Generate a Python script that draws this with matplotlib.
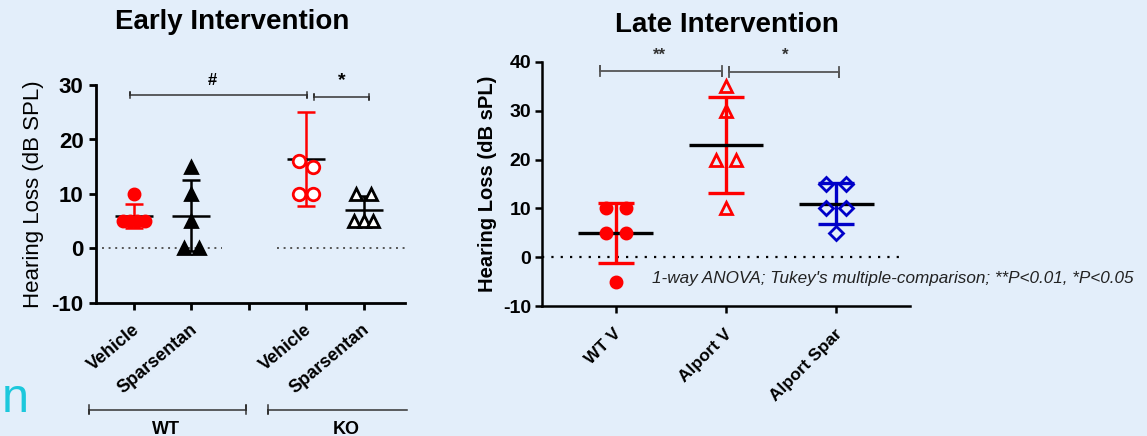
import numpy as np
import matplotlib
matplotlib.use("Agg")
import matplotlib.pyplot as plt
from matplotlib.transforms import ScaledTranslation

plt.rcParams['font.family'] = ['Liberation Sans', 'DejaVu Sans']

BG = "#e3eefa"
RED = "#ff0000"
BLUE = "#0000c8"

# ---- data: early intervention ----
early_labels = ["Vehicle", "Sparsentan", "Vehicle", "Sparsentan"]
early_pos = [1, 2, 4, 5]
early_points = [
    [10, 5, 5, 5, 5],
    [15, 10, 5, 0, 0],
    [16, 15, 10, 10],
    [10, 10, 5, 5, 5],
]
early_mean = [6.0, 6.0, 16.4, 7.0]
early_sd = [2.2, 6.5, 8.6, 2.7]
early_groups = ["WT", "KO"]

# ---- data: late intervention ----
late_labels = ["WT V", "Alport V", "Alport Spar"]
late_points = [
    [10, 10, 5, 5, -5],
    [35, 30, 20, 20, 10],
    [15, 15, 10, 10, 5],
]

note = "1-way ANOVA; Tukey's multiple-comparison; **P<0.01, *P<0.05"


def swarm(vals, width, thr):
    # spread points of (almost) equal value side by side
    vals = sorted(vals, reverse=True)
    offs = np.zeros(len(vals))
    used = [False] * len(vals)
    for i in range(len(vals)):
        if used[i]:
            continue
        grp = [j for j in range(len(vals)) if not used[j] and abs(vals[j] - vals[i]) <= thr]
        n = len(grp)
        step = width / n
        for k, j in enumerate(grp):
            offs[j] = (k - (n - 1) / 2) * step if n > 1 else 0
            used[j] = True
    return np.array(vals), offs


def xlabels(ax, pos, labels, rot, size, dx, dy):
    # rotated category labels, placed by hand under the ticks
    tr = ax.get_xaxis_transform() + ScaledTranslation(dx / 100, dy / 100, fig.dpi_scale_trans)
    for p, lab in zip(pos, labels):
        ax.text(p, 0, lab, transform=tr, rotation=rot, ha="right", va="top",
                rotation_mode="anchor", fontsize=size, fontweight="bold", clip_on=False)


fig = plt.figure(figsize=(11.47, 4.36), dpi=100, facecolor=BG)

# ================= early =================
ax1 = fig.add_axes([96 / 1147, 1 - 303 / 436, (405 - 96) / 1147, 218 / 436])
ax1.set_facecolor(BG)
ax1.set_xlim(0.34, 5.72)
ax1.set_ylim(-10, 30)

ax1.plot([0.44, 2.53], [0, 0], color="#555555", lw=1.4, ls=(0, (1, 2.4)))
ax1.plot([3.49, 5.72], [0, 0], color="#555555", lw=1.4, ls=(0, (1, 2.4)))

early_style = [
    dict(marker="o", color=RED, mfc=RED, ms=8),
    dict(marker="^", color="black", mfc="black", ms=9),
    dict(marker="o", color=RED, mfc="white", ms=9),
    dict(marker="^", color="black", mfc="white", ms=9),
]
for x, pts, m, s, st in zip(early_pos, early_points, early_mean, early_sd, early_style):
    ax1.errorbar(x, m, yerr=s, color=st["color"], lw=1.8, capsize=6.5, capthick=1.8, zorder=2)
    ax1.hlines(m, x - 0.33, x + 0.33, color="black", lw=1.8, zorder=3)
    v, o = swarm(pts, 0.5, 1.5)
    ax1.plot(x + o, v, ls="none", marker=st["marker"], ms=st["ms"], mfc=st["mfc"],
             mec=st["color"], mew=2, zorder=4, clip_on=False)

# significance
ax1.plot([0.93, 0.93, 0.93, 4.02, 4.02, 4.02], [27.6, 28.8, 28.2, 28.2, 27.6, 28.8], color="#333333", lw=1.1, clip_on=False)
ax1.plot([4.13, 4.13, 4.13, 5.09, 5.09, 5.09], [27.2, 28.4, 27.8, 27.8, 27.2, 28.4], color="#333333", lw=1.1, clip_on=False)
ax1.text(2.36, 30.9, "#", ha="center", va="center", fontsize=12, fontweight="bold")
ax1.text(4.62, 30.9, "*", ha="center", va="center", fontsize=14, fontweight="bold")

ax1.set_xticks([1, 2, 3, 4, 5])
ax1.set_xticklabels([])
xlabels(ax1, early_pos, early_labels, 40, 13, -2, -18)
ax1.set_yticks([-10, 0, 10, 20, 30])
ax1.set_yticklabels(["-10", "0", "10", "20", "30"], fontsize=16, fontweight="bold")
for sp in ["top", "right"]:
    ax1.spines[sp].set_visible(False)
for sp in ["left", "bottom"]:
    ax1.spines[sp].set_linewidth(2.0)
ax1.tick_params(direction="out", length=5, width=2.0, pad=4)
ax1.set_ylabel("Hearing Loss (dB SPL)", fontsize=16, labelpad=5)

# WT / KO brackets
tr = ax1.get_xaxis_transform()
ax1.plot([0.22, 0.22, 0.22, 2.95, 2.95, 2.95], [-0.47, -0.51, -0.49, -0.49, -0.47, -0.51],
         transform=tr, color="#333333", lw=1.1, clip_on=False)
ax1.plot([3.33, 3.33, 3.33, 5.75], [-0.47, -0.51, -0.49, -0.49],
         transform=tr, color="#333333", lw=1.1, clip_on=False)
ax1.text(1.56, -0.54, early_groups[0], transform=tr, ha="center", va="top", fontsize=13, fontweight="bold")
ax1.text(4.7, -0.54, early_groups[1], transform=tr, ha="center", va="top", fontsize=13, fontweight="bold")

fig.text(232 / 1147, 1 - 22 / 436, "Early Intervention", ha="center", va="center", fontsize=20, fontweight="bold")
fig.text(2 / 1147, 1 - 412 / 436, "n", ha="left", va="baseline", fontsize=35, color="#1cc8dc")

# ================= late =================
ax2 = fig.add_axes([542 / 1147, 1 - 306 / 436, (910 - 542) / 1147, 244 / 436])
ax2.set_facecolor(BG)
ax2.set_xlim(0.33, 3.67)
ax2.set_ylim(-10, 40)

ax2.plot([0.33, 3.6], [0, 0], color="black", lw=1.6, ls=(0, (1, 3.2)))

late_style = [
    dict(marker="o", color=RED, mfc=RED, ms=8),
    dict(marker="^", color=RED, mfc="none", ms=9),
    dict(marker="D", color=BLUE, mfc="none", ms=7),
]
for i, (pts, st) in enumerate(zip(late_points, late_style)):
    x = i + 1
    m = np.mean(pts)
    s = np.std(pts, ddof=1)
    ax2.errorbar(x, m, yerr=s, color=st["color"], lw=2.4, capsize=13, capthick=2.4, zorder=2)
    ax2.hlines(m, x - 0.34, x + 0.34, color="black", lw=2.4, zorder=3)
    v, o = swarm(pts, 0.36, 0.5)
    ax2.plot(x + o, v, ls="none", marker=st["marker"], ms=st["ms"], mfc=st["mfc"],
             mec=st["color"], mew=2, zorder=4, clip_on=False)

ax2.plot([0.86, 0.86, 0.86, 1.96, 1.96, 1.96], [37.2, 39.2, 38.2, 38.2, 37.2, 39.2], color="#555555", lw=1.3, clip_on=False)
ax2.plot([2.03, 2.03, 2.03, 3.03, 3.03, 3.03], [37.0, 39.0, 38.0, 38.0, 37.0, 39.0], color="#555555", lw=1.3, clip_on=False)
ax2.text(1.4, 41.3, "**", ha="center", va="center", fontsize=12, fontweight="bold", color="#333333")
ax2.text(2.54, 41.3, "*", ha="center", va="center", fontsize=12, fontweight="bold", color="#333333")

ax2.set_xticks([1, 2, 3])
ax2.set_xticklabels([])
xlabels(ax2, [1, 2, 3], late_labels, 45, 12.5, -2, -20)
ax2.set_yticks([-10, 0, 10, 20, 30, 40])
ax2.set_yticklabels(["-10", "0", "10", "20", "30", "40"], fontsize=14, fontweight="bold")
for sp in ["top", "right"]:
    ax2.spines[sp].set_visible(False)
for sp in ["left", "bottom"]:
    ax2.spines[sp].set_linewidth(1.8)
ax2.tick_params(direction="out", length=5, width=1.8, pad=3)
ax2.set_ylabel("Hearing Loss (dB sPL)", fontsize=14.5, fontweight="bold", labelpad=4)

fig.text(727 / 1147, 1 - 25 / 436, "Late Intervention", ha="center", va="center", fontsize=20, fontweight="bold")
fig.text(652 / 1147, 1 - 278 / 436, note, ha="left", va="center", fontsize=12.3, style="italic", color="#222222")

fig.savefig("out.png", dpi=100, facecolor=BG)
